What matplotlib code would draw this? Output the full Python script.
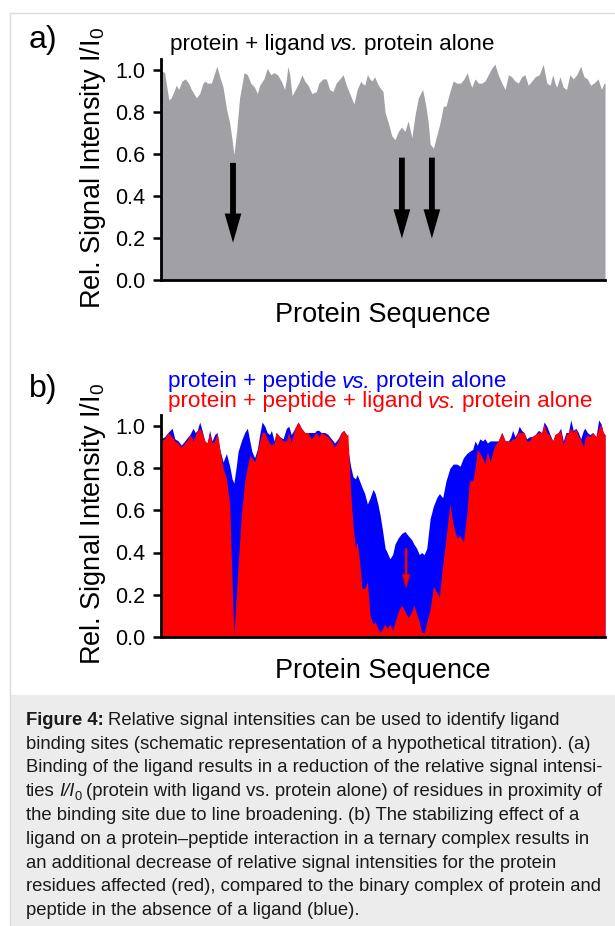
import matplotlib
matplotlib.use("Agg")
import matplotlib.pyplot as plt
from matplotlib.patches import Rectangle
from matplotlib.lines import Line2D

plt.rcParams['font.family'] = ['Liberation Sans', 'DejaVu Sans']
plt.rcParams['mathtext.fontset'] = 'custom'
plt.rcParams['mathtext.rm'] = 'Liberation Sans'
plt.rcParams['mathtext.it'] = 'Liberation Sans:italic'
plt.rcParams['mathtext.bf'] = 'Liberation Sans:bold'

# ---------------- data: panel a ----------------
res_a = [0, 1.2, 2.6, 3.4, 4.3, 5.1, 5.9, 7.0, 8.1, 9.2, 10.1, 11.8, 12.9, 14.0, 14.8,
         15.4, 16.8, 17.7, 18.6, 19.6, 20.7, 21.8, 22.9, 23.7, 24.3, 25.2, 26.2, 27.7,
         28.8, 29.9, 31.2, 32.1, 32.9, 34.3, 35.4, 36.6, 37.7, 38.8, 40.1, 41.2, 41.8,
         42.3, 42.9, 43.7, 44.8, 45.9, 47.0, 47.9, 49.0, 50.3, 51.8, 52.6, 54.0, 55.1,
         56.2, 57.3, 58.4, 59.6, 60.7, 61.8, 63.2, 64.3, 65.4, 66.6, 67.0, 67.9, 68.8,
         69.6, 70.3, 71.2, 72.1, 72.9, 74.0, 74.7, 75.8, 76.9, 78.0, 79.1, 80.2, 81.3,
         82.4, 83.6, 84.7, 85.8, 87.2, 88.3, 89.1, 89.7, 90.8, 91.9, 93.0, 94.1, 95.0,
         96.3, 97.4, 98.6, 99.9, 101.0, 102.1, 102.8, 103.6, 104.7, 105.8, 106.9, 108.0,
         109.1, 110.2, 111.3, 112.4, 113.6, 114.7, 115.8, 116.9, 118.0, 119.1, 120.2,
         121.3, 122.4, 123.6, 124.7, 126.1, 127.4, 128.6, 129.7, 130.6, 131.3, 131.9,
         133.0, 134.1, 135.2, 136.3, 137.4, 138.6, 139.9, 141.0, 142.1, 143.2, 144.3,
         145.7, 146.8, 147.7, 148.0]
int_a = [1.00, 0.99, 0.86, 0.87, 0.90, 0.93, 0.91, 0.95, 0.96, 0.94, 0.91, 0.87, 0.89,
         0.94, 0.95, 0.94, 0.94, 0.98, 1.02, 0.97, 0.92, 0.82, 0.75, 0.67, 0.60, 0.71,
         0.87, 0.99, 0.98, 0.94, 0.92, 0.89, 0.93, 0.96, 1.01, 0.98, 0.99, 0.98, 0.95,
         0.91, 0.96, 1.02, 0.98, 0.88, 0.91, 0.94, 0.98, 0.95, 0.93, 0.89, 0.90, 0.94,
         0.96, 0.96, 0.91, 0.90, 0.94, 0.96, 0.98, 0.93, 0.88, 0.84, 0.91, 0.95, 0.94,
         0.93, 0.98, 0.96, 0.95, 0.97, 0.94, 0.92, 0.90, 0.80, 0.75, 0.69, 0.67, 0.71,
         0.73, 0.71, 0.76, 0.68, 0.79, 0.87, 0.91, 0.83, 0.75, 0.65, 0.63, 0.69, 0.75,
         0.83, 0.83, 0.90, 0.95, 0.94, 0.94, 0.96, 0.99, 0.95, 0.92, 0.96, 0.94, 0.94,
         0.95, 0.98, 1.01, 1.03, 0.98, 0.94, 0.91, 0.98, 0.97, 0.95, 0.94, 0.97, 0.98,
         0.93, 0.95, 0.97, 0.98, 1.03, 0.94, 0.93, 0.98, 0.94, 0.92, 0.97, 0.92, 0.91,
         0.98, 0.96, 0.98, 1.02, 0.97, 0.96, 0.93, 0.94, 0.96, 0.91, 0.94, 0.94]
arrows_a_res = [24.0, 80.3, 90.3]
arrows_a_from = [0.56, 0.585, 0.585]
arrows_a_to = [0.18, 0.20, 0.20]

# ---------------- data: panel b ----------------
res_b = [0, 1.2, 2.3, 3.7, 4.6, 5.7, 6.8, 7.9, 9.0, 9.6, 10.7, 11.4, 12.1, 12.9, 13.7,
         14.6, 15.4, 16.2, 17.0, 17.9, 18.7, 19.6, 20.7, 21.8, 22.9, 23.7, 24.3, 25.1,
         25.7, 26.8, 27.9, 28.8, 29.6, 30.3, 31.2, 32.1, 32.9, 33.7, 34.6, 35.4, 36.2,
         36.8, 37.7, 38.4, 39.6, 40.7, 41.8, 42.6, 43.4, 44.6, 45.7, 46.8, 47.9, 49.0,
         50.1, 51.2, 51.8, 52.6, 53.4, 54.6, 55.7, 56.8, 57.9, 59.0, 60.1, 60.9, 61.8,
         62.3, 63.2, 64.0, 64.8, 65.4, 66.2, 67.0, 67.9, 68.8, 69.7, 70.7, 71.4, 72.3,
         73.0, 73.9, 74.7, 75.4, 76.3, 77.2, 78.0, 79.1, 80.2, 81.3, 82.4, 83.6, 84.3,
         85.2, 86.1, 86.9, 87.7, 88.6, 89.7, 90.8, 91.9, 92.8, 93.9, 95.0, 96.3, 97.4,
         98.6, 99.7, 100.8, 101.9, 102.8, 103.9, 104.7, 105.4, 106.3, 107.2, 108.0,
         108.8, 109.7, 110.6, 111.3, 112.4, 113.6, 114.7, 115.8, 116.6, 117.2, 118.0,
         118.8, 119.4, 120.2, 121.0, 121.9, 122.8, 123.6, 124.7, 125.8, 126.9, 127.7,
         128.6, 129.4, 130.6, 131.3, 132.4, 133.2, 134.1, 135.0, 135.8, 136.6, 137.4,
         138.3, 139.1, 139.9, 140.8, 141.3, 142.1, 143.0, 143.9, 145.0, 145.9, 146.7,
         147.4, 148.0]
peptide = [0.94, 0.95, 0.97, 0.99, 0.94, 0.93, 0.91, 0.93, 0.95, 0.96, 0.99, 0.97, 0.98,
           1.02, 0.98, 0.93, 0.92, 0.98, 0.93, 0.96, 0.97, 0.89, 0.83, 0.87, 0.81, 0.75,
           0.73, 0.81, 0.88, 0.93, 0.97, 0.99, 0.93, 0.88, 0.85, 0.89, 0.96, 1.02, 1.00,
           0.97, 0.96, 0.98, 0.93, 0.97, 0.95, 0.94, 0.99, 1.00, 0.96, 0.99, 1.02, 0.99,
           0.97, 0.97, 0.97, 0.97, 0.98, 0.98, 0.97, 0.97, 0.96, 0.94, 0.92, 0.94, 0.97,
           0.98, 0.96, 0.89, 0.81, 0.76, 0.75, 0.77, 0.74, 0.71, 0.68, 0.63, 0.66, 0.70,
           0.68, 0.63, 0.58, 0.50, 0.42, 0.40, 0.37, 0.39, 0.44, 0.47, 0.49, 0.50, 0.48,
           0.46, 0.44, 0.42, 0.39, 0.40, 0.39, 0.42, 0.56, 0.62, 0.66, 0.68, 0.66, 0.74,
           0.80, 0.82, 0.82, 0.81, 0.85, 0.87, 0.88, 0.89, 0.93, 0.91, 0.94, 0.93, 0.94,
           0.92, 0.93, 0.93, 0.93, 0.93, 0.97, 0.93, 0.93, 0.95, 0.98, 0.95, 0.97, 1.00,
           0.98, 0.97, 0.94, 0.95, 0.95, 0.96, 0.98, 0.97, 1.02, 1.00, 0.97, 0.93, 0.96,
           0.97, 0.99, 0.93, 0.97, 0.97, 1.03, 0.98, 0.99, 0.97, 0.94, 0.98, 0.99, 0.97,
           0.96, 0.97, 0.95, 1.03, 1.01, 0.97, 0.96]
peptide_ligand = [0.93, 0.94, 0.97, 0.95, 0.93, 0.92, 0.90, 0.92, 0.94, 0.96, 0.93, 0.96,
                  0.98, 0.99, 0.97, 0.93, 0.92, 0.97, 0.92, 0.93, 0.97, 0.89, 0.80, 0.75,
                  0.63, 0.26, 0.01, 0.20, 0.34, 0.58, 0.74, 0.81, 0.86, 0.85, 0.83, 0.88,
                  0.93, 0.97, 0.97, 0.94, 0.92, 0.91, 0.92, 0.97, 0.95, 0.93, 0.93, 0.97,
                  0.92, 0.99, 1.02, 0.99, 0.97, 0.97, 0.94, 0.96, 0.97, 0.95, 0.97, 0.96,
                  0.95, 0.93, 0.90, 0.93, 0.97, 0.98, 0.96, 0.96, 0.69, 0.53, 0.42, 0.45,
                  0.36, 0.23, 0.23, 0.26, 0.10, 0.06, 0.07, 0.04, 0.02, 0.04, 0.06, 0.04,
                  0.06, 0.03, 0.07, 0.12, 0.15, 0.12, 0.09, 0.12, 0.15, 0.11, 0.07, 0.02,
                  0.02, 0.07, 0.13, 0.24, 0.21, 0.19, 0.34, 0.47, 0.63, 0.53, 0.47, 0.48,
                  0.45, 0.58, 0.74, 0.74, 0.80, 0.89, 0.87, 0.85, 0.82, 0.88, 0.83, 0.88,
                  0.91, 0.93, 0.97, 0.93, 0.93, 0.93, 0.94, 0.94, 0.97, 0.97, 0.97, 0.97,
                  0.93, 0.93, 0.95, 0.96, 0.97, 0.97, 1.01, 0.97, 0.96, 0.93, 0.96, 0.97,
                  0.98, 0.91, 0.96, 0.97, 0.99, 0.97, 0.99, 0.95, 0.94, 0.90, 0.94, 0.96,
                  0.95, 0.97, 0.95, 0.99, 1.01, 0.97, 0.96]
arrow_b_res = 81.7
arrow_b_from = 0.42
arrow_b_to = 0.23

yticks = [0.0, 0.2, 0.4, 0.6, 0.8, 1.0]
ytick_labels = ["0.0", "0.2", "0.4", "0.6", "0.8", "1.0"]

# segments: (text, style) where style in {"n", "b", "i", "sub"}
title_a = [("protein + ligand", "n"), (" ", "n"), ("vs.", "i"), (" ", "n"), ("protein alone", "n")]
title_b1 = [("protein + peptide", "n"), (" ", "n"), ("vs.", "i"), (" ", "n"), ("protein alone", "n")]
title_b2 = [("protein + peptide + ligand", "n"), (" ", "n"), ("vs.", "i"), (" ", "n"),
            ("protein alone", "n")]
caption_lines = [
    [("Figure 4:", "b"), (" ", "n"), ("Relative signal intensities can be used to identify ligand", "n")],
    [("binding sites (schematic representation of a hypothetical titration). (a)", "n")],
    [("Binding of the ligand results in a reduction of the relative signal intensi-", "n")],
    [("ties", "n"), (" ", "n"), ("I/I", "i"), ("0", "sub"), (" ", "n"),
     ("(protein with ligand vs. protein alone) of residues in proximity of", "n")],
    [("the binding site due to line broadening. (b) The stabilizing effect of a", "n")],
    [("ligand on a protein\u2013peptide interaction in a ternary complex results in", "n")],
    [("an additional decrease of relative signal intensities for the protein", "n")],
    [("residues affected (red), compared to the binary complex of protein and", "n")],
    [("peptide in the absence of a ligand (blue).", "n")],
]

# ---------------- figure ----------------
W, H = 615, 926
fig = plt.figure(figsize=(W / 100, H / 100), dpi=100)
fig.patch.set_facecolor("white")
renderer = fig.canvas.get_renderer()


def fx(px):
    return px / W


def fy(py):
    return 1 - py / H


def text_width(s, size, weight="normal", style="normal"):
    t = fig.text(0, 0, s, fontsize=size, fontweight=weight, fontstyle=style)
    w = t.get_window_extent(renderer).width
    t.remove()
    return w


def seg_text(x_px, y_px, segments, size, color="black"):
    x = x_px
    space_w = 0.85 * (text_width("a a", size) - text_width("aa", size))
    for s, st in segments:
        if s == " ":
            x += space_w
            continue
        kw = dict(fontsize=size, color=color, ha="left", va="baseline")
        yy = y_px
        if st == "b":
            kw["fontweight"] = "bold"
        elif st == "i":
            kw["fontstyle"] = "italic"
        elif st == "sub":
            kw["fontsize"] = size * 0.7
            yy = y_px + size * 100 / 72 * 0.18
        t = fig.text(fx(x), fy(yy), s, **kw)
        x += t.get_window_extent(renderer).width


# frame and caption background
fig.patches.append(Rectangle((fx(10), 0), 1 - fx(10), fy(695), transform=fig.transFigure,
                             facecolor="#ececec", edgecolor="none", zorder=0))
fig.lines.append(Line2D([fx(10), fx(10)], [0, fy(13)], transform=fig.transFigure,
                        color="#dcdcdc", lw=1.0))
fig.lines.append(Line2D([fx(10), 1], [fy(13), fy(13)], transform=fig.transFigure,
                        color="#dcdcdc", lw=1.0))

YMAX = 1.055


def style_axes(ax):
    ax.set_xlim(0, 148)
    ax.set_ylim(0, YMAX)
    for s in ["top", "right"]:
        ax.spines[s].set_visible(False)
    for s in ["left", "bottom"]:
        ax.spines[s].set_linewidth(2.0)
        ax.spines[s].set_zorder(5)
    ax.set_xticks([])
    ax.set_yticks(yticks)
    ax.set_yticklabels(ytick_labels)
    ax.tick_params(axis="y", length=6, width=1.8, pad=5.5, labelsize=15.5)
    ax.patch.set_alpha(0)


# panel a
axa = fig.add_axes([fx(161), fy(280.5), fx(605) - fx(161), YMAX * 210 / H])
style_axes(axa)
axa.fill_between(res_a, int_a, 0, color="#a1a1a5", lw=0)
for r, y0, y1 in zip(arrows_a_res, arrows_a_from, arrows_a_to):
    axa.annotate("", xy=(r, y1), xytext=(r, y0),
                 arrowprops=dict(arrowstyle="simple,head_width=1.2,head_length=2.1,tail_width=0.42",
                                 color="black", shrinkA=0, shrinkB=0, lw=0))

# panel b
axb = fig.add_axes([fx(161), fy(636.7), fx(605) - fx(161), YMAX * 210.5 / H])
style_axes(axb)
axb.fill_between(res_b, peptide, 0, color="#0000ff", lw=0)
axb.fill_between(res_b, peptide_ligand, 0, color="#ff0000", lw=0)
axb.annotate("", xy=(arrow_b_res, arrow_b_to), xytext=(arrow_b_res, arrow_b_from),
             arrowprops=dict(arrowstyle="simple,head_width=0.55,head_length=1.0,tail_width=0.15",
                             color="#ff0000", ec="#d00000", shrinkA=0, shrinkB=0, lw=0.3))

# texts
fig.text(fx(29), fy(48), "a)", fontsize=23, ha="left", va="baseline")
fig.text(fx(29), fy(397), "b)", fontsize=23, ha="left", va="baseline")
seg_text(170, 50, title_a, 16.2)
seg_text(168, 387.5, title_b1, 16.2, color="#0000ff")
seg_text(168, 407.5, title_b2, 16.2, color="#ff0000")
for yc in (168, 524):
    fig.text(fx(100), fy(yc), r"Rel. Signal Intensity I/I$_{\mathrm{0}}$", fontsize=19.5,
             rotation=90, rotation_mode="anchor", ha="center", va="baseline")
for yb in (321.5, 678):
    fig.text(fx(383), fy(yb), "Protein Sequence", fontsize=19.5, ha="center", va="baseline")

# caption
for i, line in enumerate(caption_lines):
    seg_text(26, 725 + i * 23.75, line, 13.3, color="#1a1a1a")

fig.savefig("out.png", dpi=100)
